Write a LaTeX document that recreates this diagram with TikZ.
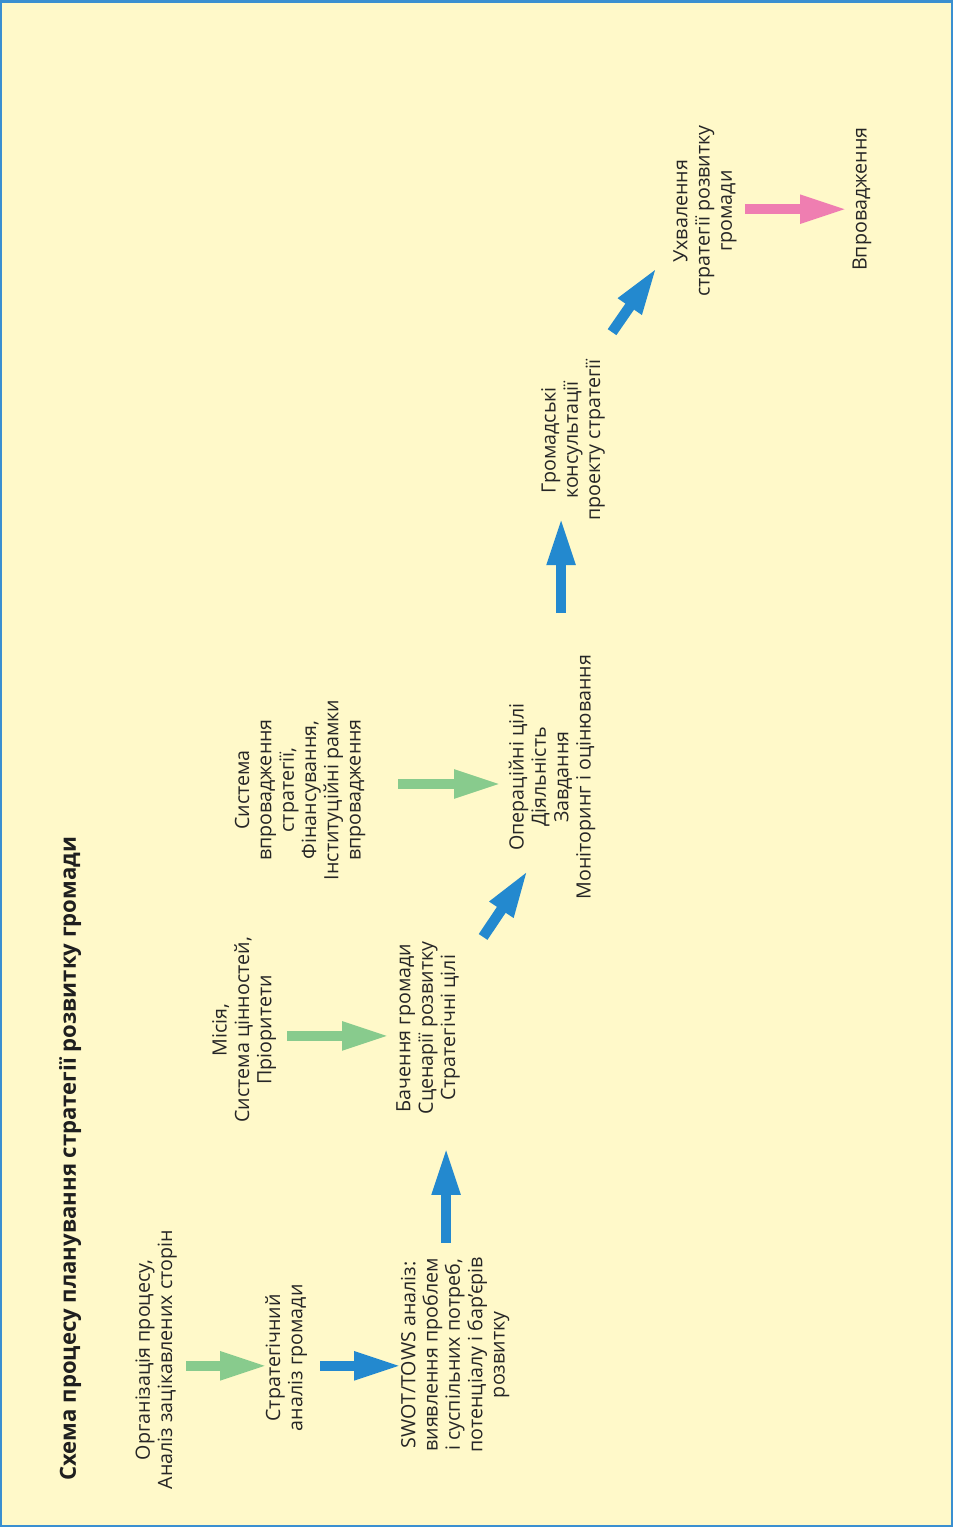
\documentclass[tikz,border=0pt]{standalone}
\usepackage{fontspec}
\setmainfont{Open Sans}
\usetikzlibrary{arrows.meta}

\definecolor{paper}{HTML}{FFF9C9}
\definecolor{frameblue}{HTML}{3A8FD0}
\definecolor{arrgreen}{HTML}{88CB8D}
\definecolor{arrblue}{HTML}{2389CF}
\definecolor{arrpink}{HTML}{EF7EB1}

\tikzset{
	box/.style={rotate=90, align=center, inner sep=0pt, text=black!85,
		font=\fontsize{11.2}{12.7}\selectfont},
	fat/.style={line width=0.21cm, -{Triangle[length=0.96cm, width=0.52cm]}},
	garrow/.style={fat, color=arrgreen},
	barrow/.style={fat, color=arrblue},
	parrow/.style={fat, color=arrpink}
}

\begin{document}
\begin{tikzpicture}[x=0.02cm, y=-0.02cm]
				\path[fill=paper, draw=frameblue, line width=0.05cm] (1,1) rectangle (952,1526);
				\useasboundingbox (0,0) rectangle (953,1527);
				
				\node[rotate=90, anchor=west, text=black!88, font=\bfseries\fontsize{12.6}{15}\selectfont] (t) at (70,1487) {Схема процесу планування стратегії розвитку громади};
				
				\path (156,1360) node[box] (n1) {Організація процесу,\\Аналіз зацікавлених сторін}
				(286,1358) node[box] (n2) {Стратегічний\\аналіз громади}
				(455,1355) node[box] (n3) {SWOT/TOWS аналіз:\\виявлення проблем\\і суспільних потреб,\\потенціалу і бар'єрів\\розвитку}
				(244,1030) node[box] (n4) {Місія,\\Система цінностей,\\Пріоритети}
				(428,1028) node[box] (n5) {Бачення громади\\Сценарії розвитку\\Стратегічні цілі}
				(300,790) node[box] (n6) {Система\\впровадження\\стратегії,\\Фінансування,\\Інституційні рамки\\впровадження}
				(552,777) node[box] (n7) {Операційні цілі\\Діяльність\\Завдання\\Моніторинг і оцінювання}
				(573,440) node[box] (n8) {Громадські\\консультації\\проекту стратегії}
				(705,211) node[box] (n9) {Ухвалення\\стратегії розвитку\\громади}
				(862,199) node[box] (n10) {Впровадження};
				
				\draw[garrow] ([shift={(30,6)}]n1.center) -- ([shift={(-18,8)}]n2.center);
				\draw[barrow] ([shift={(34,8)}]n2.center) -- ([shift={(-53,11)}]n3.center);
				\draw[barrow] ([shift={(-9,-112)}]n3.center) -- ([shift={(18,119)}]n5.center);
				\draw[garrow] ([shift={(43,6)}]n4.center) -- ([shift={(-38,8)}]n5.center);
				\draw[barrow] ([shift={(55,-91)}]n5.center) -- ([shift={(-24,93)}]n7.center);
				\draw[garrow] ([shift={(98,-6)}]n6.center) -- ([shift={(-50,7)}]n7.center);
				\draw[barrow] ([shift={(9,-164)}]n7.center) -- ([shift={(-12,77)}]n8.center);
				\draw[barrow] ([shift={(39,-108)}]n8.center) -- ([shift={(-48,56)}]n9.center);
				\draw[parrow] ([shift={(40,-2)}]n9.center) -- ([shift={(-14,10)}]n10.center);
			\end{tikzpicture}
\end{document}
